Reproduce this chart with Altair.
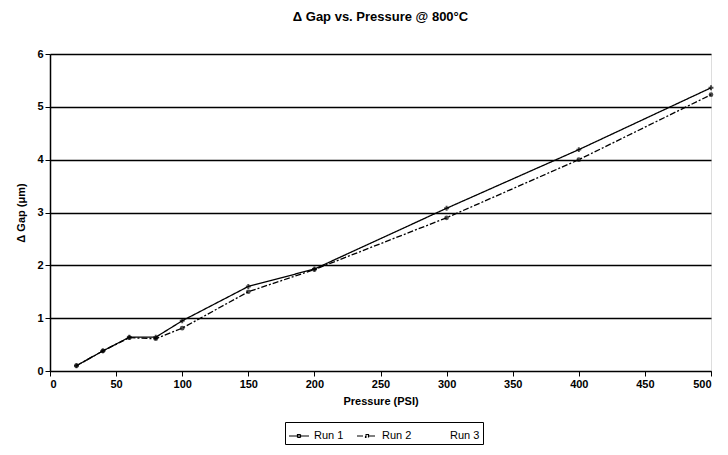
import altair as alt
import pandas as pd

pressure = [20, 40, 60, 80, 100, 150, 200, 300, 400, 500]
run1 = [0.10, 0.38, 0.64, 0.64, 0.95, 1.60, 1.93, 3.08, 4.19, 5.36]
run2 = [0.10, 0.38, 0.63, 0.61, 0.81, 1.50, 1.92, 2.90, 4.00, 5.23]
series = ["Run 1", "Run 2", "Run 3"]

rows = []
for p, v in zip(pressure, run1):
    rows.append({"Pressure": p, "Gap": v, "Series": "Run 1"})
for p, v in zip(pressure, run2):
    rows.append({"Pressure": p, "Gap": v, "Series": "Run 2"})
df = pd.DataFrame(rows)

FONT = "Liberation Sans"

x = alt.X("Pressure:Q", scale=alt.Scale(domain=[0, 500], nice=False),
          axis=alt.Axis(values=list(range(0, 501, 50)), title="Pressure (PSI)",
                        grid=False, tickColor="black", domainColor="black",
                        labelFontWeight="bold", labelFontSize=11, labelColor="black",
                        titleFontSize=11, titleFontWeight="bold", titleColor="black",
                        labelFont=FONT, titleFont=FONT, tickSize=5, titlePadding=6))
y = alt.Y("Gap:Q", scale=alt.Scale(domain=[0, 6], nice=False),
          axis=alt.Axis(values=list(range(0, 7)), title="Δ Gap (μm)",
                        grid=True, gridColor="black", gridWidth=1.6,
                        tickColor="black", domainColor="black", domainWidth=1.5,
                        labelFontWeight="bold", labelFontSize=11, labelColor="black",
                        titleFontSize=11, titleFontWeight="bold", titleColor="black",
                        labelFont=FONT, titleFont=FONT, tickSize=5, titlePadding=10))

legend = alt.Legend(title=None, orient="none", legendX=235, legendY=368,
                    direction="horizontal", strokeColor="black", fillColor="white",
                    padding=3, labelFont=FONT, labelFontSize=11, labelColor="black",
                    symbolType="M-1,0H1M-0.15,-0.15H0.15V0.15H-0.15Z",
                    symbolSize=400, symbolStrokeWidth=1.2, columnPadding=10,
                    labelOffset=4)

lines = alt.Chart(df).mark_line(strokeWidth=1.3).encode(
    x=x, y=y,
    color=alt.Color("Series:N", scale=alt.Scale(domain=series, range=["black", "black", "white"]),
                    legend=legend),
    strokeDash=alt.StrokeDash("Series:N", legend=legend,
                              scale=alt.Scale(domain=series, range=[[1, 0], [6, 2, 2, 2], [1, 0]])))
pts1 = alt.Chart(df).transform_filter(alt.datum.Series == "Run 1").mark_point(
    filled=True, size=24, shape="cross", color="black").encode(x=x, y=y)
pts2 = alt.Chart(df).transform_filter(alt.datum.Series == "Run 2").mark_point(
    filled=True, size=22, shape="circle", color="black").encode(x=x, y=y)

chart = alt.layer(lines, pts1, pts2).properties(
    width=661, height=317,
    title=alt.TitleParams("Δ Gap vs. Pressure @ 800°C", font=FONT, fontSize=13,
                          fontWeight="bold", color="black", anchor="middle", offset=24),
    autosize=alt.AutoSizeParams(type="none"),
    padding={"left": 42, "top": 46, "right": 9, "bottom": 76},
).configure_view(stroke="black", strokeWidth=1, strokeDash=[2, 1]).configure(background="white")

chart.save("out.html", embed_options={"renderer": "svg", "actions": False})
